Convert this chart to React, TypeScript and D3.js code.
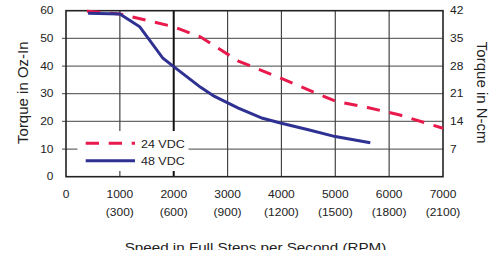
import React from 'react';
import * as d3 from 'd3';

const speedTicks = [0, 1000, 2000, 3000, 4000, 5000, 6000, 7000];
const rpmLabels = ['', '(300)', '(600)', '(900)', '(1200)', '(1500)', '(1800)', '(2100)'];
const ozTicks = [0, 10, 20, 30, 40, 50, 60];
const ncmTicks = [7, 14, 21, 28, 35, 42];

const speed24 = [390, 1000, 2000, 2500, 3200, 4000, 5000, 5600, 6200, 7000];
const torque24 = [59.8, 58.8, 54.2, 50.5, 41.8, 35.5, 27.3, 25.0, 22.3, 17.5];

const speed48 = [410, 1000, 1370, 1800, 2000, 2500, 2750, 3200, 3650, 4000, 4500, 5000, 5650];
const torque48 = [59.1, 58.8, 54.2, 42.8, 39.8, 32.3, 29.1, 24.8, 21.1, 19.3, 17.0, 14.5, 12.3];

const legendLabels = ['24 VDC', '48 VDC'];

const RED = '#e8194b';
const BLUE = '#2e3192';
const FONT = '"Liberation Sans", Arial, Helvetica, sans-serif';
const SQ = 0.86;

const T = ({ x, y, anchor = 'start', size = 12, children }: any) => (
  <g transform={`translate(${x},${y}) scale(1,${SQ})`}>
    <text x={0} y={0} textAnchor={anchor} fontSize={size} fontFamily={FONT} fill="#222">
      {children}
    </text>
  </g>
);

export default function App() {
  const L = 66, R = 443, TOP = 10.7, BOT = 176.7;
  const x = d3.scaleLinear().domain([0, 7000]).range([L, R]);
  const y = d3.scaleLinear().domain([0, 60]).range([BOT, TOP]);
  const y2 = d3.scaleLinear().domain([0, 42]).range([BOT, TOP]);

  const line = d3.line<[number, number]>().x(d => x(d[0])).y(d => y(d[1]));
  const d24 = line(speed24.map((s, i) => [s, torque24[i]] as [number, number])) || '';
  const d48 = line(speed48.map((s, i) => [s, torque48[i]] as [number, number])) || '';

  return (
    <svg width={502} height={250} style={{ position: 'absolute', left: 0, top: 0, background: '#fff' }}>
      <rect x={0} y={0} width={502} height={258} fill="#fff" />
      {/* horizontal grid */}
      {ozTicks.filter(t => t > 0 && t < 60).map(t => (
        <line key={'h' + t} x1={L - 4} x2={R} y1={y(t)} y2={y(t)} stroke="#6a6a6a" strokeWidth={1.3} />
      ))}
      {/* vertical grid */}
      {speedTicks.filter(t => t > 0 && t < 7000).map(t => (
        <line key={'v' + t} x1={x(t)} x2={x(t)} y1={TOP} y2={BOT} stroke={t === 2000 ? '#111' : '#444'} strokeWidth={t === 2000 ? 2 : 1.2} />
      ))}
      {/* frame */}
      <rect x={L} y={TOP} width={R - L} height={BOT - TOP} fill="none" stroke="#222" strokeWidth={1.6} />

      {/* curves */}
      <path d={d24} fill="none" stroke={RED} strokeWidth={3} strokeDasharray="13.3 9.7" />
      <path d={d48} fill="none" stroke={BLUE} strokeWidth={3} />

      {/* legend */}
      <rect x={77.5} y={131} width={111} height={40} fill="#fff" />
      <line x1={85.7} x2={135} y1={143.3} y2={143.3} stroke={RED} strokeWidth={3} strokeDasharray="13.3 9.7" />
      <line x1={85.7} x2={135} y1={160.7} y2={160.7} stroke={BLUE} strokeWidth={3} />
      <T x={141} y={147.6} size={12.5}>{legendLabels[0]}</T>
      <T x={141} y={165} size={12.5}>{legendLabels[1]}</T>

      {/* left ticks */}
      {ozTicks.map(t => (
        <T key={'l' + t} x={53.5} y={y(t) + 3.7} anchor="end">{t}</T>
      ))}
      {/* right ticks */}
      {ncmTicks.map(t => (
        <T key={'r' + t} x={450} y={y2(t) + 3.7}>{t}</T>
      ))}
      {/* bottom ticks */}
      {speedTicks.map((t, i) => (
        <g key={'b' + t}>
          <T x={x(t)} y={198.3} anchor="middle">{t}</T>
          {rpmLabels[i] && <T x={x(t)} y={216} anchor="middle">{rpmLabels[i]}</T>}
        </g>
      ))}

      {/* axis titles */}
      <text transform={`translate(27.5,${(TOP + BOT) / 2 - 1}) rotate(-90)`} textAnchor="middle" fontSize={15} fontFamily={FONT} fill="#222">
        Torque in Oz-In
      </text>
      <text transform={`translate(477,${(TOP + BOT) / 2 - 1}) rotate(90)`} textAnchor="middle" fontSize={15} fontFamily={FONT} fill="#222">
        Torque in N-cm
      </text>
      <T x={255.5} y={252} anchor="middle" size={15.2}>Speed in Full Steps per Second  (RPM)</T>
    </svg>
  );
}
